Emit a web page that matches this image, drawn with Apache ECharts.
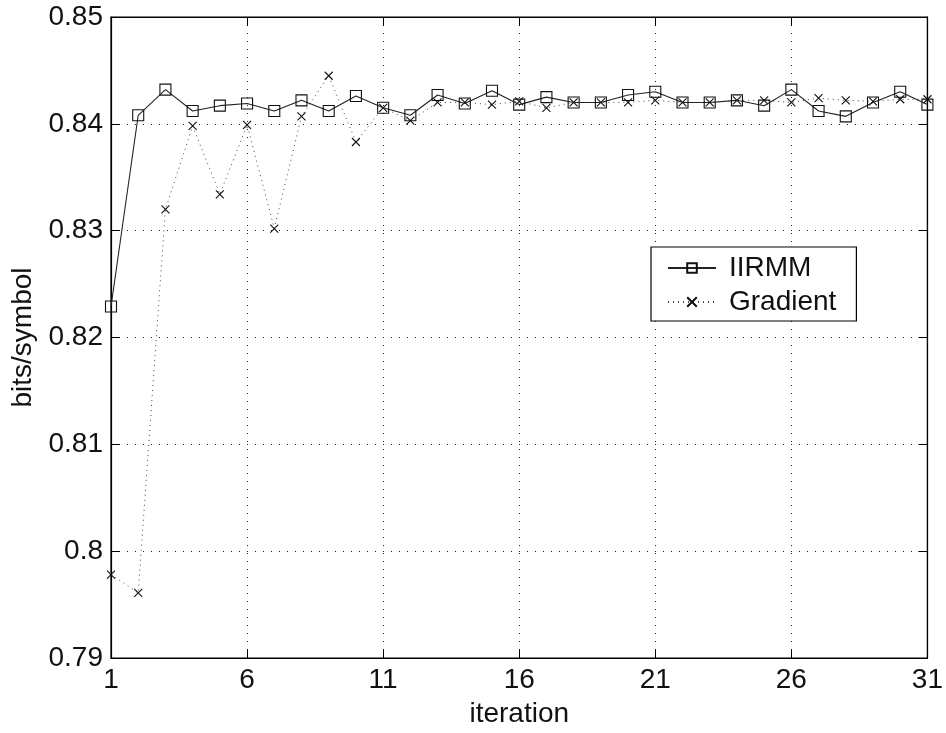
<!DOCTYPE html>
<html>
<head>
<meta charset="utf-8">
<title>IIRMM vs Gradient</title>
<script src="https://cdn.jsdelivr.net/npm/echarts@6/dist/echarts.min.js"></script>
<style>
  html, body { margin: 0; padding: 0; background: #fff; }
  #chart { width: 946px; height: 733px; }
</style>
</head>
<body>
<div id="chart"></div>
<script>
// Iterations 1..31
const iterations = [1,2,3,4,5,6,7,8,9,10,11,12,13,14,15,16,17,18,19,20,21,22,23,24,25,26,27,28,29,30,31];

// bits/symbol per iteration
const iirmmValues = [
  0.8229, 0.8408, 0.8432, 0.8412, 0.8417, 0.8419, 0.8412, 0.8422, 0.8412, 0.8426,
  0.8415, 0.8408, 0.8427, 0.8419, 0.8431, 0.8418, 0.8425, 0.8420, 0.8420, 0.8427,
  0.8430, 0.8420, 0.8420, 0.8422, 0.8417, 0.8432, 0.8412, 0.8407, 0.8420, 0.8430,
  0.8418
];
const gradientValues = [
  0.7978, 0.7961, 0.8320, 0.8398, 0.8334, 0.8399, 0.8302, 0.8407, 0.8445, 0.8383,
  0.8415, 0.8403, 0.8420, 0.8420, 0.8418, 0.8421, 0.8415, 0.8420, 0.8420, 0.8420,
  0.8422, 0.8420, 0.8420, 0.8422, 0.8422, 0.8420, 0.8424, 0.8422, 0.8421, 0.8423,
  0.8423
];

const xTicks = { min: 1, max: 31, step: 5 };
const yTicks = { min: 0.79, max: 0.85, step: 0.01 };

const FONT = 'Liberation Sans, Arial, Helvetica, sans-serif';
const crossPath = 'path://M0,0L10,10M10,0L0,10';

const pair = (xs, ys) => xs.map((x, i) => [x, ys[i]]);

const chart = echarts.init(document.getElementById('chart'), null, { renderer: 'canvas' });

const gridLine = { show: true, lineStyle: { color: '#222', width: 1, type: [1, 7] } };

chart.setOption({
  animation: false,
  backgroundColor: '#fff',
  textStyle: { fontFamily: FONT },
  grid: {
    left: 111, right: 16, top: 17, bottom: 70,
    show: true, borderColor: '#000', borderWidth: 1.2, backgroundColor: '#fff'
  },
  legend: {
    orient: 'vertical',
    left: 651, top: 247,
    width: 209,
    padding: [7, 20, 5, 16],
    itemGap: 6,
    itemWidth: 48,
    itemHeight: 12,
    borderColor: '#000', borderWidth: 1.2,
    backgroundColor: '#fff',
    textStyle: { fontFamily: FONT, fontSize: 28, color: '#111', padding: [0, 0, 0, 8] },
    data: ['IIRMM', 'Gradient']
  },
  xAxis: [
    {
      type: 'value', min: xTicks.min, max: xTicks.max, interval: xTicks.step,
      name: 'iteration', nameLocation: 'middle', nameGap: 42,
      nameTextStyle: { fontFamily: FONT, fontSize: 28, color: '#111' },
      axisLine: { show: true, lineStyle: { color: '#000', width: 1.2 } },
      axisTick: { show: true, inside: true, length: 9, lineStyle: { color: '#000' } },
      axisLabel: { fontFamily: FONT, fontSize: 28, color: '#111', margin: 8 },
      splitLine: gridLine
    },
    {
      type: 'value', position: 'top', min: xTicks.min, max: xTicks.max, interval: xTicks.step,
      axisLine: { show: true, lineStyle: { color: '#000', width: 1.2 } },
      axisTick: { show: true, inside: true, length: 9, lineStyle: { color: '#000' } },
      axisLabel: { show: false },
      splitLine: { show: false }
    }
  ],
  yAxis: [
    {
      type: 'value', min: yTicks.min, max: yTicks.max, interval: yTicks.step,
      name: 'bits/symbol', nameLocation: 'middle', nameGap: 74, nameRotate: 90,
      nameTextStyle: { fontFamily: FONT, fontSize: 28, color: '#111' },
      axisLine: { show: true, lineStyle: { color: '#000', width: 1.2 } },
      axisTick: { show: true, inside: true, length: 9, lineStyle: { color: '#000' } },
      axisLabel: {
        fontFamily: FONT, fontSize: 28, color: '#111', margin: 8,
        formatter: v => String(Math.round(v * 100) / 100)
      },
      splitLine: gridLine
    },
    {
      type: 'value', position: 'right', min: yTicks.min, max: yTicks.max, interval: yTicks.step,
      axisLine: { show: true, lineStyle: { color: '#000', width: 1.2 } },
      axisTick: { show: true, inside: true, length: 9, lineStyle: { color: '#000' } },
      axisLabel: { show: false },
      splitLine: { show: false }
    }
  ],
  series: [
    {
      name: 'Gradient',
      type: 'line',
      data: pair(iterations, gradientValues),
      symbol: crossPath,
      symbolSize: 8,
      lineStyle: { color: '#444', width: 1, type: [1, 4] },
      itemStyle: { color: 'none', borderColor: '#111', borderWidth: 1.1 },
      z: 3
    },
    {
      name: 'IIRMM',
      type: 'line',
      data: pair(iterations, iirmmValues),
      symbol: 'rect',
      symbolSize: 11,
      lineStyle: { color: '#222', width: 1.1, type: 'solid' },
      itemStyle: { color: 'none', borderColor: '#111', borderWidth: 1.1 },
      z: 4
    }
  ]
});
</script>
</body>
</html>
